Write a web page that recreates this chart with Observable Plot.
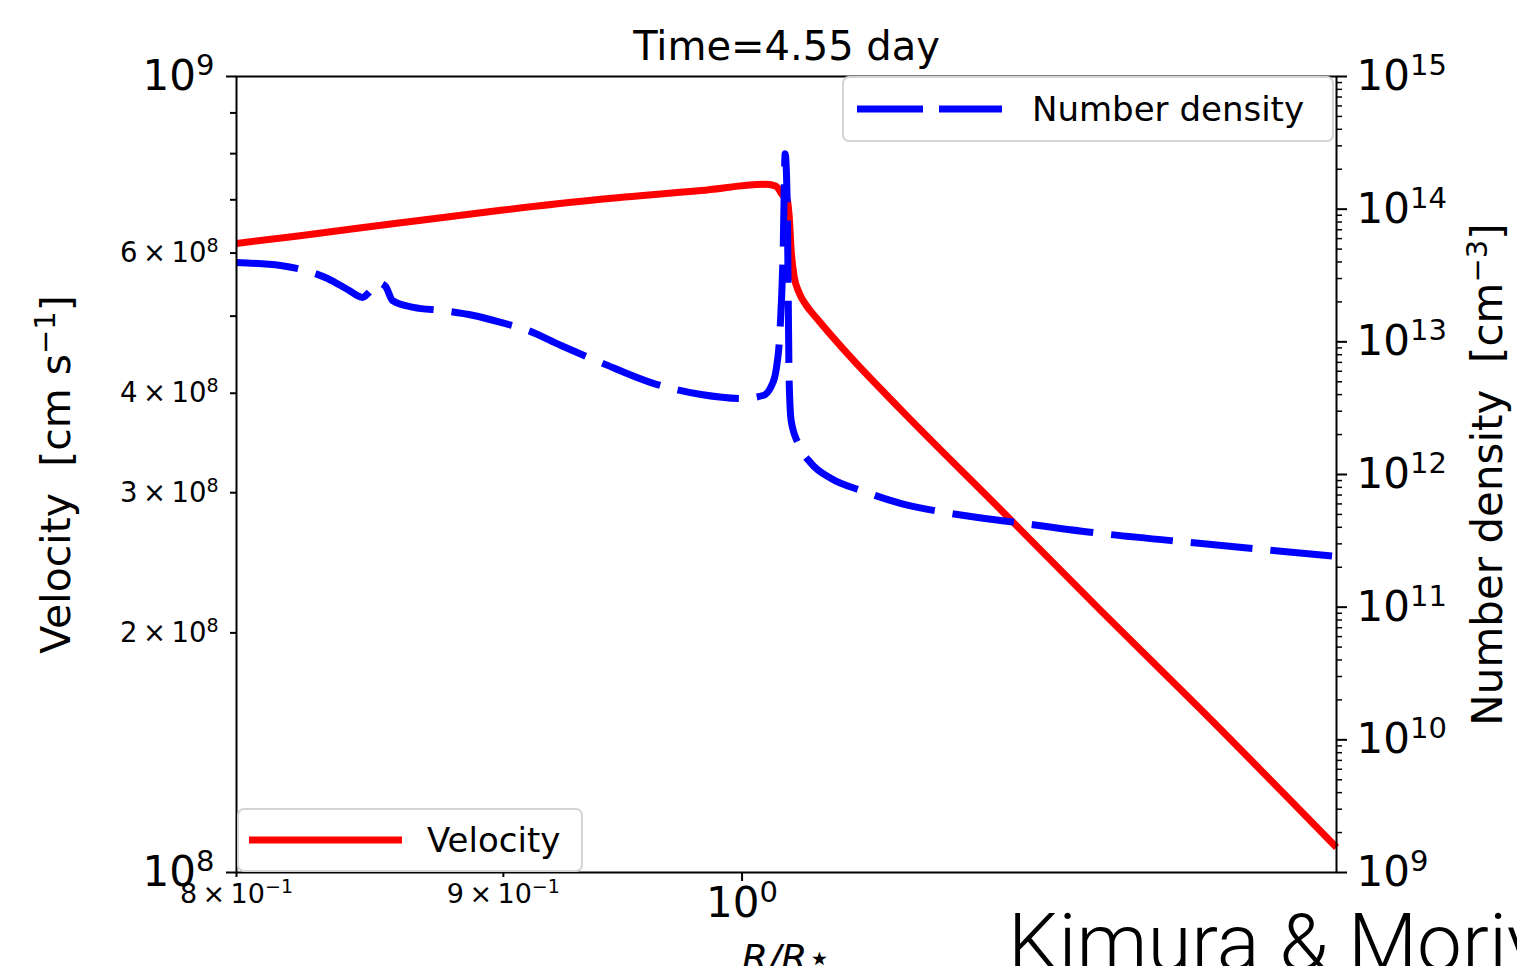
<!DOCTYPE html>
<html><head><meta charset="utf-8">
<script src="https://cdn.jsdelivr.net/npm/d3@7"></script>
<script src="https://cdn.jsdelivr.net/npm/@observablehq/plot@0.6"></script>
<style>
body{margin:0;background:#fff;overflow:hidden;font-family:"DejaVu Sans",sans-serif;}
#wrap{position:relative;width:1517px;height:966px;overflow:hidden;}
.legend{position:absolute;background:rgba(255,255,255,0.85);border:2px solid #d4d4d4;border-radius:7px;box-sizing:border-box;}
.legend svg{position:absolute;left:0;top:0;}
.legend span{position:absolute;font-size:34px;color:#000;line-height:1;white-space:nowrap;}
#credit{position:absolute;left:1008px;top:903px;font-family:Roboto,"Liberation Sans",sans-serif;font-weight:300;font-size:80px;color:#000;white-space:nowrap;line-height:1;}
</style></head><body><div id="wrap"></div>
<script>
// ---- data ----
const title = "Time=4.55 day";
const velocityLabel = "Velocity\u00a0\u00a0[cm s^{\u22121}]";
const densityLabel = "Number density\u00a0\u00a0[cm^{\u22123}]";
const xLabel = "R/R\u22c6";
const creditText = "Kimura & Moriya";

const radiusVel = [0.8, 0.8228, 0.8601, 0.899, 0.9396, 0.9821, 1.0107, 1.0151, 1.0178, 1.0201, 1.021, 1.0219, 1.0232, 1.0255, 1.0287, 1.0332, 1.0494, 1.0728, 1.1213, 1.1718, 1.2247, 1.30];
const velocity  = [6.17e8, 6.31e8, 6.55e8, 6.79e8, 7.01e8, 7.19e8, 7.32e8, 7.28e8, 7.11e8, 7.01e8, 6.69e8, 6.05e8, 5.62e8, 5.35e8, 5.16e8, 4.98e8, 4.43e8, 3.81e8, 2.85e8, 2.13e8, 1.60e8, 1.075e8];

const radiusDen = [0.8, 0.8157, 0.8328, 0.8402, 0.8458, 0.8481, 0.8514, 0.8544, 0.857, 0.865, 0.8766, 0.8883, 0.899, 0.9097, 0.9232, 0.9396, 0.9606, 0.9821, 1.0, 1.0093, 1.0129, 1.0151, 1.0169, 1.0183, 1.0192, 1.0201, 1.0206, 1.021, 1.0219, 1.0251, 1.031, 1.0401, 1.054, 1.0728, 1.0968, 1.1287, 1.1718, 1.2247, 1.30];
const density   = [3.96e13, 3.76e13, 3.00e13, 2.48e13, 2.16e13, 2.35e13, 2.80e13, 2.61e13, 2.05e13, 1.82e13, 1.72e13, 1.58e13, 1.40e13, 1.22e13, 9.38e12, 6.98e12, 4.93e12, 4.01e12, 3.74e12, 3.94e12, 4.60e12, 6.08e12, 1.22e13, 4.88e13, 2.62e14, 1.16e14, 2.05e13, 5.11e12, 2.55e12, 1.71e12, 1.21e12, 9.33e11, 7.57e11, 6.04e11, 5.08e11, 4.35e11, 3.59e11, 3.02e11, 2.41e11];

const xDomain = [0.8, 1.3];
const velDomain = [1e8, 1e9];
const denDomain = [1e9, 1e15];
const xMajorTicks = [1];
const xMinorTicks = [0.8, 0.9];
const xMinorLabels = ["8\u2009\u00d7\u200910^{\u22121}", "9\u2009\u00d7\u200910^{\u22121}"];
const velMajorTicks = [1e8, 1e9];
const velMinorTicks = [2e8, 3e8, 4e8, 5e8, 6e8, 7e8, 8e8, 9e8];
const velMinorLabels = ["2\u2009\u00d7\u200910^{8}", "3\u2009\u00d7\u200910^{8}", "4\u2009\u00d7\u200910^{8}", "", "6\u2009\u00d7\u200910^{8}", "", "", ""];
const denMajorTicks = [1e9, 1e10, 1e11, 1e12, 1e13, 1e14, 1e15];
const denMinorMultipliers = [2, 3, 4, 5, 6, 7, 8, 9];

// ---- helpers ----
const pow10Label = d => "10^{" + Math.round(Math.log10(d)) + "}";
// map density onto the velocity (left) log scale: both axes share the frame
const lv0 = Math.log10(velDomain[0]), lv1 = Math.log10(velDomain[1]);
const ln0 = Math.log10(denDomain[0]), ln1 = Math.log10(denDomain[1]);
const denToV = n => Math.pow(10, lv0 + (Math.log10(n) - ln0) / (ln1 - ln0) * (lv1 - lv0));
const lookup = (ticks, labels) => d => { const i = ticks.findIndex(t => Math.abs(t - d) / t < 1e-6); return i < 0 ? "" : labels[i]; };

const velRows = radiusVel.map((r, i) => ({r, v: velocity[i]}));
const denRows = radiusDen.map((r, i) => ({r, n: density[i], vEq: denToV(density[i])}));
const denMinorTicks = denMajorTicks.slice(0, -1).flatMap(d => denMinorMultipliers.map(m => m * d));

const font = "DejaVu Sans";
const chart = Plot.plot({
  width: 1517, height: 966,
  marginLeft: 236, marginRight: 181, marginTop: 76, marginBottom: 94,
  style: {fontFamily: font, background: "transparent", color: "black", overflow: "visible"},
  x: {type: "log", domain: xDomain},
  y: {type: "log", domain: velDomain},
  marks: [
    Plot.line(velRows, {x: "r", y: "v", stroke: "#ff0000", strokeWidth: 7, strokeLinejoin: "round", strokeLinecap: "butt", curve: "monotone-x"}),
    Plot.line(denRows, {x: "r", y: "vEq", stroke: "#0000ff", strokeWidth: 7, strokeDasharray: "62,18", strokeLinecap: "butt", strokeLinejoin: "round", curve: "monotone-x"}),
    Plot.frame({stroke: "black", strokeWidth: 2}),
    // bottom axis
    Plot.axisX(xMajorTicks, {anchor: "bottom", tickSize: 9, tickPadding: 6, strokeWidth: 2, fontSize: 42, tickFormat: pow10Label, label: null}),
    Plot.axisX(xMinorTicks, {anchor: "bottom", tickSize: 5, tickPadding: 6, strokeWidth: 2, fontSize: 27, tickFormat: lookup(xMinorTicks, xMinorLabels), label: null}),
    // left axis (velocity)
    Plot.axisY(velMajorTicks, {anchor: "left", tickSize: 10, tickPadding: 12, strokeWidth: 2, fontSize: 42, tickFormat: pow10Label, label: null}),
    Plot.axisY(velMinorTicks, {anchor: "left", tickSize: 6, tickPadding: 12, strokeWidth: 2, fontSize: 27.5, tickFormat: lookup(velMinorTicks, velMinorLabels), label: null}),
    // right axis (number density)
    Plot.axisY(denMajorTicks.map(denToV), {anchor: "right", tickSize: 10, tickPadding: 10, strokeWidth: 2, fontSize: 42, tickFormat: lookup(denMajorTicks.map(denToV), denMajorTicks.map(pow10Label)), label: null}),
    Plot.axisY(denMinorTicks.map(denToV), {anchor: "right", tickSize: 5, strokeWidth: 1.5, tickFormat: () => "", label: null}),
    // titles
    Plot.text([title], {text: d => d, frameAnchor: "top", lineAnchor: "middle", dy: -29, fontSize: 40}),
    Plot.text([velocityLabel], {text: d => d, frameAnchor: "left", textAnchor: "middle", lineAnchor: "middle", dx: -180, rotate: -90, fontSize: 41}),
    Plot.text([densityLabel], {text: d => d, frameAnchor: "right", textAnchor: "middle", lineAnchor: "middle", dx: 152, rotate: -90, fontSize: 42}),
    Plot.text([xLabel], {text: d => d, frameAnchor: "bottom", dy: 72, lineAnchor: "top", fontSize: 38, fontStyle: "italic"})
  ]
});
const wrap = document.getElementById("wrap");
wrap.appendChild(chart);

// turn "^{...}" into raised, smaller tspans (matplotlib mathtext style)
const SVGNS = "http://www.w3.org/2000/svg";
d3.select(chart).selectAll("text").each(function () {
  const t = this.textContent;
  if (!t.includes("^{")) return;
  const fs = parseFloat(getComputedStyle(this).fontSize) || 20;
  const raise = Math.round(fs * 0.36);
  const parts = t.split(/(\^\{[^}]*\})/).filter(p => p);
  this.textContent = "";
  let raised = false;
  for (const p of parts) {
    const ts = document.createElementNS(SVGNS, "tspan");
    if (p.startsWith("^{")) {
      ts.textContent = p.slice(2, -1);
      ts.setAttribute("font-size", Math.round(fs * 0.7) + "px");
      ts.setAttribute("dy", -raise);
      raised = true;
    } else {
      ts.textContent = p;
      if (raised) { ts.setAttribute("dy", raise); raised = false; }
    }
    this.appendChild(ts);
  }
});

// legends (matplotlib-style boxes inside the axes)
function legend(left, top, w, h, lineSvg, label, textLeft) {
  const d = document.createElement("div");
  d.className = "legend";
  Object.assign(d.style, {left: left + "px", top: top + "px", width: w + "px", height: h + "px"});
  d.innerHTML = `<svg width="${w}" height="${h}">${lineSvg}</svg><span style="left:${textLeft}px;top:${h/2 - 19}px">${label}</span>`;
  wrap.appendChild(d);
}
legend(237, 808, 346, 64, `<line x1="10" x2="163" y1="30" y2="30" stroke="#ff0000" stroke-width="7"/>`, "Velocity", 188);
legend(842, 76, 492, 66, `<line x1="13" x2="158" y1="31" y2="31" stroke="#0000ff" stroke-width="7" stroke-dasharray="66,16"/>`, "Number density", 188);

const credit = document.createElement("div");
credit.id = "credit";
credit.textContent = creditText;
wrap.appendChild(credit);
</script>
</body></html>
